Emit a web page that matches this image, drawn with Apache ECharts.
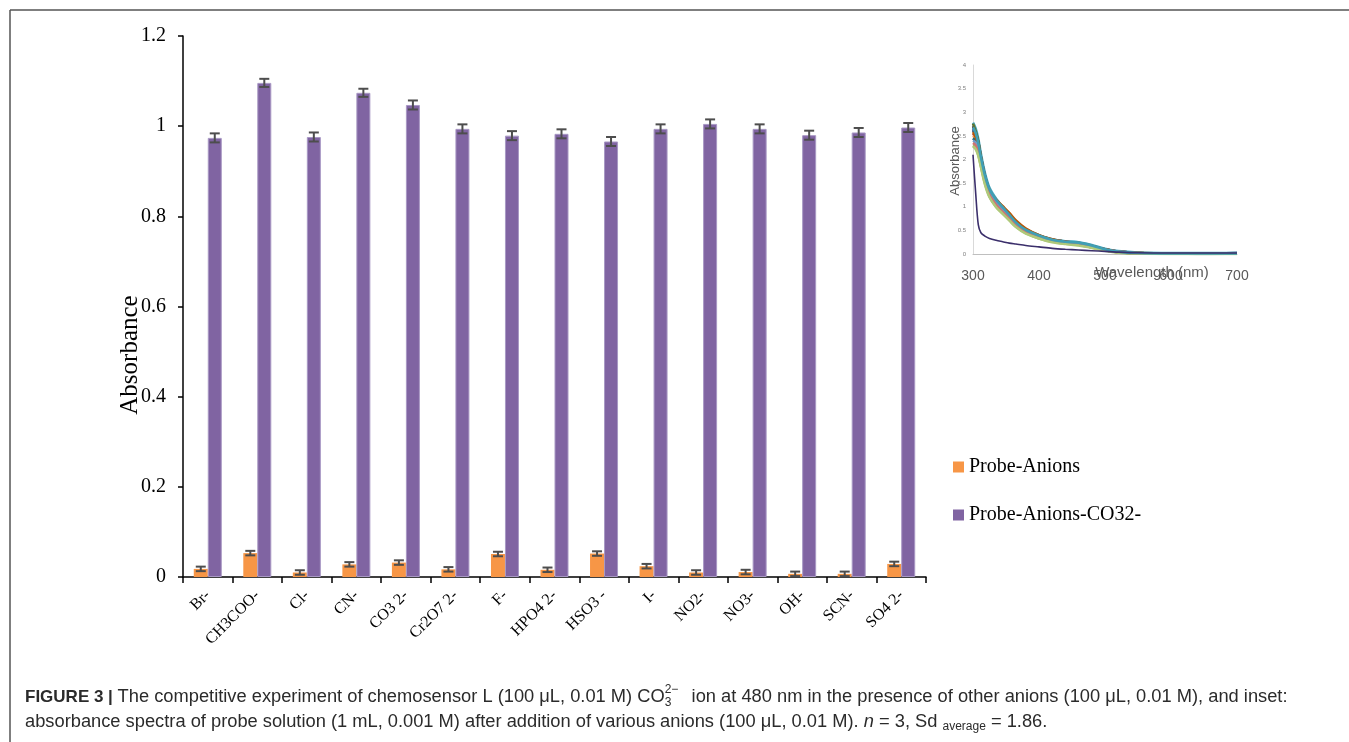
<!DOCTYPE html>
<html>
<head>
<meta charset="utf-8">
<script src="https://cdn.jsdelivr.net/npm/echarts@6/dist/echarts.min.js"></script>
<style>
  html, body { margin: 0; padding: 0; background: #fff; }
  #chart { width: 1349px; height: 742px; }
</style>
</head>
<body>
<div id="chart"></div>
<script>
// ---- Main bar chart: absorbance at 480 nm for each anion ----
const anions = ['Br-', 'CH3COO-', 'Cl-', 'CN-', 'CO3 2-', 'Cr2O7 2-', 'F-', 'HPO4 2-', 'HSO3 -', 'I-', 'NO2-', 'NO3-', 'OH-', 'SCN-', 'SO4 2-'];
const probeAnions    = [0.018, 0.053, 0.010, 0.028, 0.032, 0.017, 0.051, 0.016, 0.052, 0.024, 0.010, 0.011, 0.007, 0.007, 0.029];
const probeAnionsErr = [0.005, 0.005, 0.005, 0.005, 0.005, 0.005, 0.005, 0.005, 0.005, 0.005, 0.005, 0.005, 0.005, 0.005, 0.005];
const probeAnionsCO3    = [0.974, 1.096, 0.976, 1.074, 1.047, 0.994, 0.979, 0.983, 0.966, 0.994, 1.005, 0.994, 0.980, 0.986, 0.997];
const probeAnionsCO3Err = [0.010, 0.009, 0.010, 0.009, 0.010, 0.010, 0.010, 0.010, 0.010, 0.010, 0.010, 0.010, 0.010, 0.010, 0.010];
const yTicks = { min: 0, max: 1.2, step: 0.2 };

// ---- Inset: UV-vis spectra ----
const wavelength = [300, 304, 308, 312, 318, 325, 335, 345, 355, 365, 380, 400, 420, 440, 460, 480, 500, 520, 550, 600, 650, 700];
const spectraColors = ['#4F81BD', '#C0504D', '#9BBB59', '#8064A2', '#4BACC6', '#F79646', '#2C4D75', '#772C2A', '#5F7530', '#276A7C', '#B65708', '#729ACA', '#CD7371', '#AFC97A', '#3F9FB5'];
const spectra = [
  [2.72, 2.58, 2.36, 2.05, 1.66, 1.34, 1.12, 0.96, 0.80, 0.65, 0.50, 0.38, 0.30, 0.26, 0.23, 0.17, 0.10, 0.05, 0.02, 0.01, 0.01, 0.02],
  [2.55, 2.46, 2.27, 1.97, 1.58, 1.28, 1.06, 0.91, 0.77, 0.62, 0.47, 0.36, 0.28, 0.24, 0.21, 0.15, 0.08, 0.04, 0.02, 0.01, 0.01, 0.01],
  [2.30, 2.25, 2.10, 1.86, 1.50, 1.22, 1.00, 0.86, 0.72, 0.58, 0.44, 0.33, 0.26, 0.22, 0.19, 0.14, 0.08, 0.04, 0.01, 0.00, 0.00, 0.00],
  [2.65, 2.52, 2.33, 2.03, 1.63, 1.32, 1.10, 0.95, 0.80, 0.64, 0.49, 0.37, 0.29, 0.25, 0.22, 0.16, 0.09, 0.05, 0.02, 0.01, 0.01, 0.01],
  [2.78, 2.66, 2.44, 2.12, 1.72, 1.40, 1.17, 1.00, 0.84, 0.68, 0.52, 0.40, 0.31, 0.27, 0.25, 0.19, 0.11, 0.06, 0.03, 0.02, 0.02, 0.02],
  [2.50, 2.44, 2.28, 2.00, 1.62, 1.33, 1.14, 1.00, 0.86, 0.70, 0.53, 0.39, 0.30, 0.25, 0.22, 0.16, 0.09, 0.05, 0.02, 0.01, 0.01, 0.01],
  [2.62, 2.50, 2.31, 2.01, 1.61, 1.30, 1.09, 0.94, 0.79, 0.64, 0.49, 0.37, 0.29, 0.25, 0.22, 0.16, 0.09, 0.05, 0.02, 0.01, 0.01, 0.02],
  [2.70, 2.57, 2.37, 2.06, 1.66, 1.35, 1.13, 0.97, 0.82, 0.66, 0.51, 0.39, 0.30, 0.26, 0.23, 0.17, 0.10, 0.05, 0.02, 0.01, 0.01, 0.01],
  [2.76, 2.60, 2.38, 2.04, 1.62, 1.31, 1.08, 0.92, 0.77, 0.62, 0.47, 0.36, 0.28, 0.24, 0.21, 0.15, 0.09, 0.04, 0.02, 0.01, 0.01, 0.01],
  [2.45, 2.38, 2.21, 1.94, 1.56, 1.27, 1.05, 0.90, 0.76, 0.61, 0.46, 0.35, 0.27, 0.23, 0.20, 0.15, 0.08, 0.04, 0.01, 0.01, 0.00, 0.01],
  [2.58, 2.48, 2.30, 2.02, 1.64, 1.35, 1.15, 1.01, 0.87, 0.71, 0.54, 0.40, 0.31, 0.26, 0.23, 0.17, 0.10, 0.05, 0.02, 0.01, 0.01, 0.01],
  [2.40, 2.36, 2.22, 1.96, 1.59, 1.30, 1.09, 0.94, 0.79, 0.64, 0.49, 0.37, 0.29, 0.25, 0.22, 0.16, 0.09, 0.05, 0.02, 0.01, 0.01, 0.01],
  [2.35, 2.30, 2.16, 1.90, 1.53, 1.25, 1.04, 0.89, 0.75, 0.60, 0.46, 0.35, 0.27, 0.23, 0.20, 0.14, 0.08, 0.04, 0.01, 0.01, 0.01, 0.01],
  [2.28, 2.22, 2.08, 1.84, 1.48, 1.20, 0.99, 0.85, 0.71, 0.57, 0.43, 0.33, 0.25, 0.21, 0.18, 0.13, 0.07, 0.03, 0.01, 0.00, 0.00, 0.00],
  [2.68, 2.56, 2.35, 2.05, 1.67, 1.37, 1.15, 0.99, 0.83, 0.67, 0.51, 0.39, 0.30, 0.26, 0.24, 0.18, 0.10, 0.05, 0.02, 0.01, 0.01, 0.01]
];
const probeSpectrum = [2.10, 1.30, 0.62, 0.45, 0.38, 0.33, 0.29, 0.26, 0.23, 0.21, 0.18, 0.15, 0.12, 0.10, 0.085, 0.07, 0.055, 0.04, 0.025, 0.02, 0.02, 0.02];

const SERIF = 'Liberation Serif';
const SANS = 'Liberation Sans';
const BAR_W = 14;

// Error bar drawn as a vertical whisker with caps, offset to its bar's slot
function errorBars(values, errs, offset) {
  return {
    type: 'custom',
    xAxisIndex: 0, yAxisIndex: 0,
    z: 5,
    silent: true,
    data: values.map((v, i) => [i, v, errs[i]]),
    encode: { x: 0, y: 1 },
    renderItem(params, api) {
      const i = api.value(0), v = api.value(1), e = api.value(2);
      const x = api.coord([i, v])[0] + offset;
      const yt = api.coord([i, v + e])[1];
      const yb = api.coord([i, v - e])[1];
      const st = { stroke: '#4d4d4d', lineWidth: 2 };
      return {
        type: 'group',
        children: [
          { type: 'line', shape: { x1: x, y1: yt, x2: x, y2: yb }, style: st },
          { type: 'line', shape: { x1: x - 5, y1: yt, x2: x + 5, y2: yt }, style: st },
          { type: 'line', shape: { x1: x - 5, y1: yb, x2: x + 5, y2: yb }, style: st }
        ]
      };
    }
  };
}

// Caption laid out run by run so mixed weights, italics and scripts sit side by side
const measureCtx = document.createElement('canvas').getContext('2d');
function captionLine(runs, x0, y) {
  const out = [];
  let x = x0;
  runs.forEach(r => {
    const size = r.size || 18.3;
    const weight = r.weight || 'normal';
    const fstyle = r.italic ? 'italic' : 'normal';
    measureCtx.font = `${fstyle} ${weight} ${size}px "${SANS}"`;
    out.push({
      type: 'text', x: x, y: y + (r.dy || 0), silent: true,
      style: { text: r.t, fontFamily: SANS, fontSize: size, fontWeight: weight, fontStyle: fstyle, fill: '#2b2b2b', align: 'left', verticalAlign: 'middle' }
    });
    if (!r.stay) x += measureCtx.measureText(r.t).width;
  });
  return out;
}

const captionRuns1 = [
  { t: 'FIGURE 3 | ', weight: 'bold', size: 17 },
  { t: 'The competitive experiment of chemosensor L (100 μL, 0.01 M) CO' },
  { t: '2−', size: 12, dy: -7, stay: true },
  { t: '3', size: 12, dy: 6 },
  { t: '    ion at 480 nm in the presence of other anions (100 μL, 0.01 M), and inset:' }
];
const captionRuns2 = [
  { t: 'absorbance spectra of probe solution (1 mL, 0.001 M) after addition of various anions (100 μL, 0.01 M). ' },
  { t: 'n', italic: true },
  { t: ' = 3, Sd ' },
  { t: 'average', size: 12, dy: 5 },
  { t: ' = 1.86.' }
];

const chart = echarts.init(document.getElementById('chart'), null, { renderer: 'canvas' });

const option = {
  animation: false,
  backgroundColor: '#fff',
  grid: [
    { left: 183, top: 36, width: 743, height: 541 },
    { left: 973, top: 65, width: 264, height: 189 }
  ],
  legend: {
    data: ['Probe-Anions', 'Probe-Anions-CO32-'],
    orient: 'vertical',
    left: 948, top: 452,
    itemWidth: 11, itemHeight: 11, itemGap: 28,
    icon: 'rect',
    selectedMode: false,
    itemStyle: { borderWidth: 0 },
    textStyle: { fontFamily: SERIF, fontSize: 20, color: '#000' }
  },
  xAxis: [
    {
      type: 'category', gridIndex: 0, data: anions, boundaryGap: true,
      axisLine: { lineStyle: { color: '#000', width: 1.5 } },
      axisTick: { show: true, interval: 0, alignWithLabel: false, length: 6, lineStyle: { color: '#000', width: 1.5 } },
      axisLabel: { interval: 0, rotate: 45, margin: 16, fontFamily: SERIF, fontSize: 16, color: '#000' },
      splitLine: { show: false }
    },
    {
      type: 'value', gridIndex: 1, min: 300, max: 700, interval: 100,
      axisLine: { show: true, lineStyle: { color: '#bfbfbf', width: 1 } },
      axisTick: { show: false },
      axisLabel: { margin: 15, fontFamily: SANS, fontSize: 14, color: '#595959' },
      splitLine: { show: false }
    }
  ],
  yAxis: [
    {
      type: 'value', gridIndex: 0, min: yTicks.min, max: yTicks.max, interval: yTicks.step,
      axisLine: { show: true, lineStyle: { color: '#000', width: 1.5 } },
      axisTick: { show: true, length: 5, lineStyle: { color: '#000', width: 1.5 } },
      axisLabel: { margin: 17, fontFamily: SERIF, fontSize: 20, color: '#000' },
      splitLine: { show: false }
    },
    {
      type: 'value', gridIndex: 1, min: 0, max: 4, interval: 0.5,
      axisLine: { show: true, lineStyle: { color: '#d9d9d9', width: 1 } },
      axisTick: { show: false },
      axisLabel: { margin: 7, fontFamily: SANS, fontSize: 6, color: '#7f7f7f' },
      splitLine: { show: false }
    }
  ],
  series: [
    {
      name: 'Probe-Anions', type: 'bar', xAxisIndex: 0, yAxisIndex: 0,
      data: probeAnions, barWidth: BAR_W, barGap: '0%',
      itemStyle: { color: '#F79646' }
    },
    {
      name: 'Probe-Anions-CO32-', type: 'bar', xAxisIndex: 0, yAxisIndex: 0,
      data: probeAnionsCO3, barWidth: BAR_W, barGap: '0%',
      itemStyle: { color: '#8064A2', borderColor: '#a898c4', borderWidth: 1 }
    },
    errorBars(probeAnions, probeAnionsErr, -BAR_W / 2),
    errorBars(probeAnionsCO3, probeAnionsCO3Err, BAR_W / 2),
    ...spectra.map((s, k) => ({
      name: anions[k], type: 'line', xAxisIndex: 1, yAxisIndex: 1,
      data: wavelength.map((w, i) => [w, s[i]]),
      showSymbol: false, smooth: 0.3, silent: true,
      lineStyle: { color: spectraColors[k], width: 2.6 }
    })),
    {
      name: 'Probe', type: 'line', xAxisIndex: 1, yAxisIndex: 1,
      data: wavelength.map((w, i) => [w, probeSpectrum[i]]),
      showSymbol: false, smooth: 0.3, silent: true, z: 3,
      lineStyle: { color: '#3b2f6b', width: 1.6 }
    }
  ],
  graphic: [
    // figure frame
    { type: 'line', silent: true, shape: { x1: 10, y1: 10, x2: 1349, y2: 10 }, style: { stroke: '#555', lineWidth: 1.5 } },
    { type: 'line', silent: true, shape: { x1: 10, y1: 10, x2: 10, y2: 742 }, style: { stroke: '#555', lineWidth: 1.5 } },
    // main y-axis title
    {
      type: 'text', x: 130, y: 355, rotation: Math.PI / 2, silent: true,
      style: { text: 'Absorbance', fontFamily: SERIF, fontSize: 25, fill: '#000', align: 'center', verticalAlign: 'middle' }
    },
    // inset axis titles
    {
      type: 'text', x: 955, y: 161, rotation: Math.PI / 2, silent: true,
      style: { text: 'Absorbance', fontFamily: SANS, fontSize: 13, fill: '#595959', align: 'center', verticalAlign: 'middle' }
    },
    {
      type: 'text', x: 1152, y: 273, silent: true,
      style: { text: 'Wavelength (nm)', fontFamily: SANS, fontSize: 15, fill: '#595959', align: 'center', verticalAlign: 'middle' }
    },
    ...captionLine(captionRuns1, 25, 697),
    ...captionLine(captionRuns2, 25, 722)
  ]
};

chart.setOption(option);
</script>
</body>
</html>
